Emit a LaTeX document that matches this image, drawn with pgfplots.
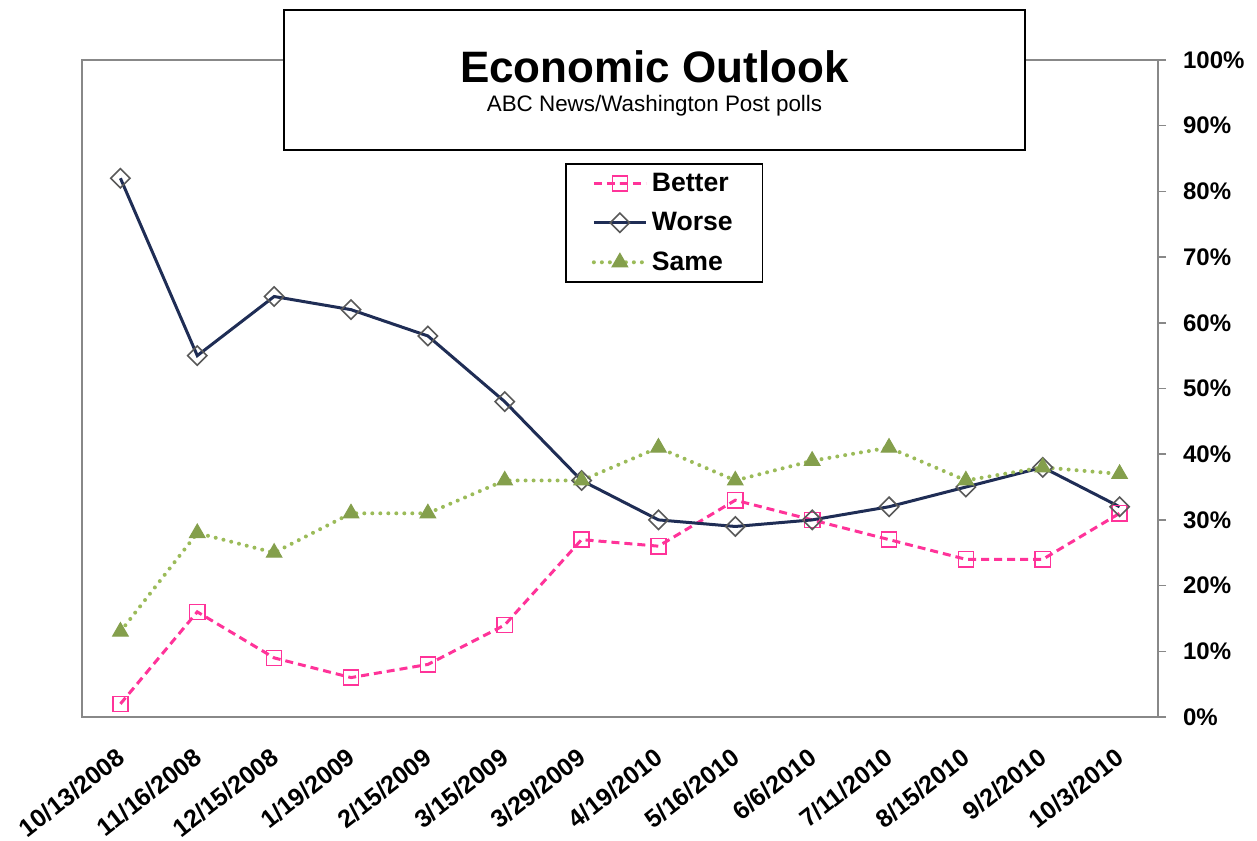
\documentclass[border=0pt]{standalone}
\usepackage{fontspec}
\setmainfont{Liberation Sans}
\usepackage{pgfplots}
\pgfplotsset{compat=1.18}
\definecolor{better}{HTML}{FF3399}
\definecolor{worse}{HTML}{1F2D55}
\definecolor{same}{HTML}{9BBB59}
\definecolor{axisgray}{HTML}{888888}
\begin{document}
\begin{tikzpicture}
\useasboundingbox (0pt,0pt) rectangle (628.5pt,420pt);
\begin{axis}[
  at={(41pt,61.5pt)}, anchor=south west,
  scale only axis, width=538pt, height=328.5pt,
  xmin=-0.5, xmax=13.5, ymin=0, ymax=100,
  axis line style={axisgray, line width=0.75pt},
  xtick={0,...,13},
  xticklabels={10/13/2008,11/16/2008,12/15/2008,1/19/2009,2/15/2009,3/15/2009,3/29/2009,4/19/2010,5/16/2010,6/6/2010,7/11/2010,8/15/2010,9/2/2010,10/3/2010},
  major x tick style={draw=none},
  xticklabel style={xshift=-2pt, yshift=-6pt, anchor=north east, rotate=38, font=\bfseries\fontsize{12.5}{14}\selectfont},
  ytick={0,10,...,100},
  ytick pos=right, yticklabel pos=right,
  tick align=outside, major tick length=4pt,
  ytick style={axisgray, line width=0.75pt},
  yticklabel={\pgfmathprintnumber{\tick}\%},
  yticklabel style={xshift=5pt, font=\bfseries\fontsize{12}{14}\selectfont},
  /pgf/number format/assume math mode=true,
  legend cell align=left,
  legend style={at={(0.449,0.843)}, anchor=north west, draw=black, line width=0.75pt,
    font=\bfseries\fontsize{13.3}{15}\selectfont, row sep=5pt, inner xsep=13pt, inner ysep=2.5pt},
  legend image code/.code={\draw[mark repeat=2,mark phase=2,#1] plot coordinates {(0pt,0pt) (13pt,0pt) (26pt,0pt)};},
  clip=false,
]
\addplot[better, line width=1.5pt, dash pattern=on 4pt off 2.5pt, mark=square, mark size=3.8pt,
  mark options={solid, fill=white, draw=better, line width=0.75pt}]
  coordinates {(0,2) (1,16) (2,9) (3,6) (4,8) (5,14) (6,27) (7,26) (8,33) (9,30) (10,27) (11,24) (12,24) (13,31)};
\addlegendentry{Better}
\addplot[worse, line width=1.5pt, mark=square, mark size=3.4pt,
  mark options={solid, rotate=45, fill=white, draw=black!65, line width=0.8pt}]
  coordinates {(0,82) (1,55) (2,64) (3,62) (4,58) (5,48) (6,36) (7,30) (8,29) (9,30) (10,32) (11,35) (12,38) (13,32)};
\addlegendentry{Worse}
\addplot[same, line width=2pt, line cap=round, dash pattern=on 0pt off 4pt, mark=triangle*, mark size=4.5pt,
  mark options={solid, fill=same!85!black, draw=same!85!black, line width=0.5pt}]
  coordinates {(0,13) (1,28) (2,25) (3,31) (4,31) (5,36) (6,36) (7,41) (8,36) (9,39) (10,41) (11,36) (12,38) (13,37)};
\addlegendentry{Same}
\end{axis}
\draw[black, line width=0.75pt, fill=white] (142pt,415pt) rectangle (512.5pt,345pt);
\node[anchor=base, inner sep=0pt] at (327.25pt,378.5pt) {\bfseries\fontsize{22}{26}\selectfont Economic Outlook};
\node[anchor=base, inner sep=0pt] at (327.25pt,364pt) {\fontsize{11.2}{13}\selectfont ABC News/Washington Post polls};
\end{tikzpicture}
\end{document}
